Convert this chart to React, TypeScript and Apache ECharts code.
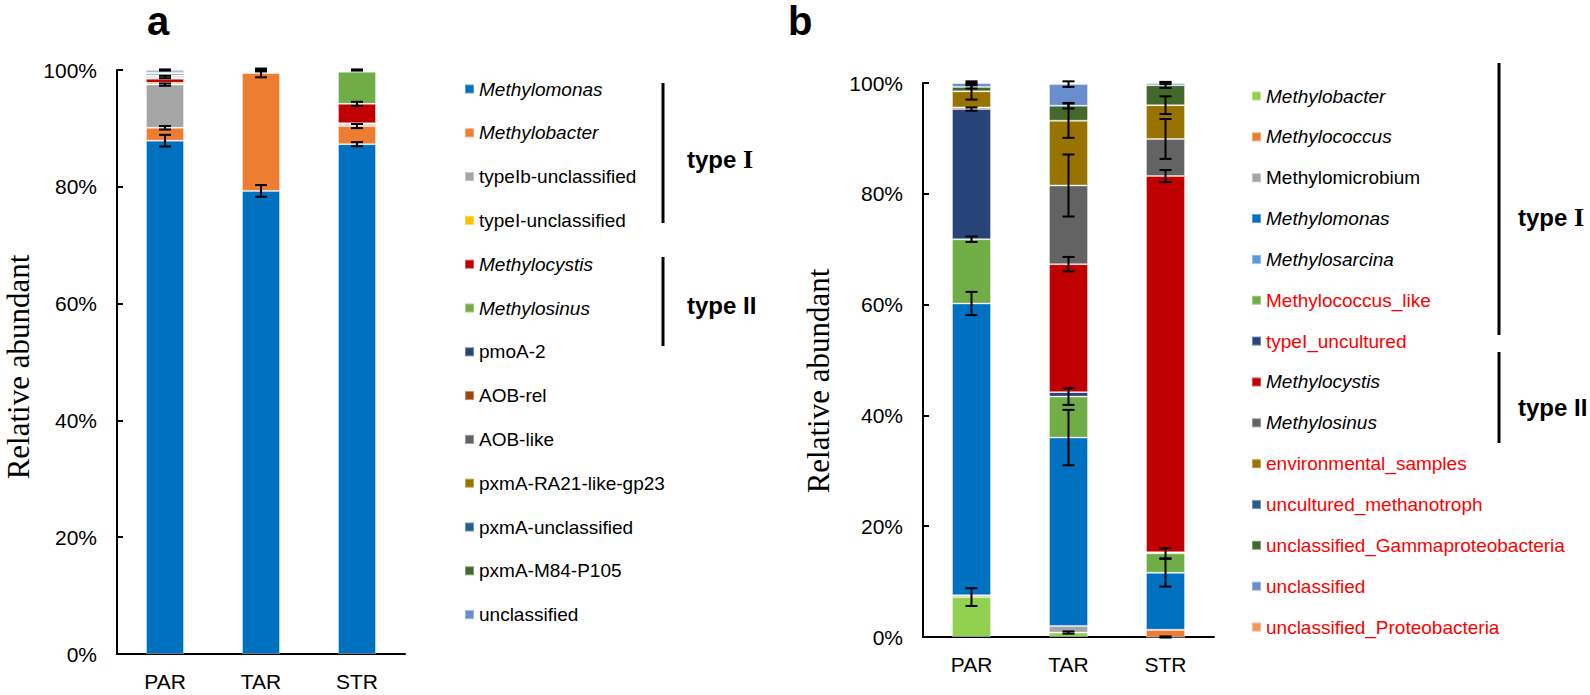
import React, { useEffect, useRef } from "react";
import * as echarts from "echarts";

// ---------- shared ----------
const categories = ["PAR", "TAR", "STR"];
const yMin = 0;
const yMax = 100;
const yInterval = 20;

// ---------- panel a ----------
const aNames = [
  "Methylomonas",
  "Methylobacter",
  "typeIb-unclassified",
  "typeI-unclassified",
  "Methylocystis",
  "Methylosinus",
  "pmoA-2",
  "AOB-rel",
  "AOB-like",
  "pxmA-RA21-like-gp23",
  "pxmA-unclassified",
  "pxmA-M84-P105",
  "unclassified",
];
const aColors = [
  "#0070C0", "#ED7D31", "#A5A5A5", "#FFC000", "#C00000", "#70AD47",
  "#264478", "#9E480E", "#636363", "#997300", "#255E91", "#43682B", "#698ED0",
];
const aItalic = ["Methylomonas", "Methylobacter", "Methylocystis", "Methylosinus"];
// values (%) for PAR, TAR, STR
const aMethylomonas = [87.9, 79.3, 87.3];
const aMethylobacter = [2.2, 20.2, 3.1];
const aTypeIb = [7.4, 0.05, 0.35];
const aTypeI = [0.3, 0, 0.15];
const aMethylocystis = [0.7, 0.05, 3.3];
const aMethylosinus = [0.1, 0.05, 5.5];
const aPmoA2 = [0.2, 0, 0.1];
const aAOBrel = [0.05, 0.2, 0];
const aAOBlike = [0.2, 0, 0];
const aRA21 = [0.05, 0, 0];
const aPxmAuncl = [0.3, 0.05, 0.1];
const aM84 = [0.2, 0, 0];
const aUncl = [0.4, 0.1, 0.1];
const aValues = [
  aMethylomonas, aMethylobacter, aTypeIb, aTypeI, aMethylocystis, aMethylosinus,
  aPmoA2, aAOBrel, aAOBlike, aRA21, aPxmAuncl, aM84, aUncl,
];
// error bar half-lengths (%)
const aErrors = [
  [1.0, 1.0, 0.35],
  [0.3, 0.75, 0.35],
  [0.2, 0, 0],
  [0, 0, 0],
  [0, 0, 0.35],
  [0, 0, 0],
  [0.2, 0, 0],
  [0, 0.1, 0],
  [0, 0, 0],
  [0, 0, 0],
  [0, 0, 0],
  [0, 0, 0],
  [0.1, 0.15, 0.1],
];

// ---------- panel b ----------
const bNames = [
  "Methylobacter",
  "Methylococcus",
  "Methylomicrobium",
  "Methylomonas",
  "Methylosarcina",
  "Methylococcus_like",
  "typeI_uncultured",
  "Methylocystis",
  "Methylosinus",
  "environmental_samples",
  "uncultured_methanotroph",
  "unclassified_Gammaproteobacteria",
  "unclassified",
  "unclassified_Proteobacteria",
];
const bColors = [
  "#92D050", "#ED7D31", "#A5A5A5", "#0070C0", "#5B9BD5", "#70AD47", "#264478",
  "#C00000", "#636363", "#997300", "#255E91", "#43682B", "#698ED0", "#F1975A",
];
const bItalic = ["Methylobacter", "Methylococcus", "Methylomonas", "Methylosarcina", "Methylocystis", "Methylosinus"];
const bRed = [
  "Methylococcus_like", "typeI_uncultured", "environmental_samples", "uncultured_methanotroph",
  "unclassified_Gammaproteobacteria", "unclassified", "unclassified_Proteobacteria",
];
const bMethylobacter = [7.2, 0.8, 0];
const bMethylococcus = [0.35, 0, 1.3];
const bMethylomicrobium = [0, 1.2, 0];
const bMethylomonas = [52.65, 34.0, 10.3];
const bMethylosarcina = [0, 0, 0];
const bMethylococcusLike = [11.6, 7.4, 3.5];
const bTypeIUncultured = [23.5, 0.8, 0.2];
const bMethylocystis = [0.3, 23.1, 67.9];
const bMethylosinus = [0, 14.2, 6.7];
const bEnvironmental = [2.9, 11.7, 6.1];
const bUncMethanotroph = [0, 0, 0];
const bGamma = [0.8, 2.7, 3.6];
const bUncl = [0.7, 3.9, 0.4];
const bProteo = [0, 0.2, 0];
const bValues = [
  bMethylobacter, bMethylococcus, bMethylomicrobium, bMethylomonas, bMethylosarcina,
  bMethylococcusLike, bTypeIUncultured, bMethylocystis, bMethylosinus, bEnvironmental,
  bUncMethanotroph, bGamma, bUncl, bProteo,
];
const bErrors = [
  [1.6, 0.2, 0.1],
  [0, 0, 0],
  [0, 0, 0],
  [2.1, 5.0, 2.5],
  [0, 0, 0],
  [0.5, 1.5, 0.9],
  [0.3, 0, 0],
  [0, 1.3, 1.1],
  [0, 5.6, 3.6],
  [1.5, 3.1, 1.6],
  [0, 0, 0],
  [0.3, 0.5, 0.5],
  [0.3, 0.5, 0.2],
  [0, 0, 0],
];

const SANS = "'Liberation Sans', Arial, sans-serif";
const SERIF = "'Liberation Serif', 'Times New Roman', serif";

function errorData(values: number[][], errors: number[][]) {
  const out: number[][] = [];
  const cum = categories.map(() => 0);
  values.forEach((vals, s) => {
    vals.forEach((v, c) => {
      cum[c] += v;
      const e = errors[s][c];
      if (e > 0) out.push([c, cum[c], e]);
    });
  });
  return out;
}

function errorSeries(idx: number, values: number[][], errors: number[][]) {
  return {
    type: "custom",
    name: "err" + idx,
    xAxisIndex: idx,
    yAxisIndex: idx,
    z: 10,
    silent: true,
    encode: { x: 0, y: 1 },
    data: errorData(values, errors),
    renderItem: (params: any, api: any) => {
      const c = api.value(0);
      const v = api.value(1);
      const e = api.value(2);
      const hi = api.coord([c, v + e]);
      const lo = api.coord([c, v - e]);
      const x = hi[0];
      const hw = 6;
      const style = { stroke: "#000", lineWidth: 2 };
      return {
        type: "group",
        children: [
          { type: "line", shape: { x1: x, y1: hi[1], x2: x, y2: lo[1] }, style },
          { type: "line", shape: { x1: x - hw, y1: hi[1], x2: x + hw, y2: hi[1] }, style },
          { type: "line", shape: { x1: x - hw, y1: lo[1], x2: x + hw, y2: lo[1] }, style },
        ],
      };
    },
  };
}

function barSeries(prefix: string, idx: number, names: string[], colors: string[], values: number[][], width: number) {
  return names.map((n, i) => ({
    type: "bar",
    name: prefix + "|" + n,
    stack: prefix,
    xAxisIndex: idx,
    yAxisIndex: idx,
    barWidth: width,
    data: values[i],
    itemStyle: { color: colors[i], borderColor: "rgba(255,255,255,0.35)", borderWidth: 1 },
  }));
}

const axisLineStyle = { color: "#000", width: 2 };

function xAxis(idx: number) {
  return {
    type: "category",
    gridIndex: idx,
    data: categories,
    axisLine: { lineStyle: axisLineStyle },
    axisTick: { inside: true, length: 6, lineStyle: axisLineStyle },
    axisLabel: { color: "#000", fontSize: 21, fontFamily: SANS, margin: 17 },
  };
}
function yAxis(idx: number) {
  return {
    type: "value",
    gridIndex: idx,
    min: yMin,
    max: yMax,
    interval: yInterval,
    axisLine: { show: true, lineStyle: axisLineStyle },
    axisTick: { show: true, inside: true, length: 6, lineStyle: axisLineStyle },
    splitLine: { show: false },
    axisLabel: { color: "#000", fontSize: 21, fontFamily: SANS, margin: 20, formatter: "{value}%" },
  };
}

const richBase = { fontSize: 19, fontFamily: SANS, lineHeight: 20 };

function legend(prefix: string, names: string[], left: number, top: number, gap: number, italic: string[], red: string[]) {
  return {
    orient: "vertical",
    left,
    top,
    itemGap: gap,
    itemWidth: 9,
    itemHeight: 9,
    icon: "rect",
    selectedMode: false,
    data: names.map((n) => prefix + "|" + n),
    formatter: (name: string) => {
      const n = name.split("|")[1];
      if (italic.includes(n)) return "{i|" + n + "}";
      if (red.includes(n)) return "{r|" + n + "}";
      return "{n|" + n + "}";
    },
    textStyle: {
      ...richBase,
      color: "#000",
      rich: {
        i: { ...richBase, color: "#000", fontStyle: "italic" },
        r: { ...richBase, color: "#FF0000" },
        n: { ...richBase, color: "#000" },
      },
    },
  };
}

function bracket(x: number, y1: number, y2: number) {
  return { type: "line", shape: { x1: x, y1, x2: x, y2 }, style: { stroke: "#000", lineWidth: 3 } };
}
function typeLabel(x: number, y: number, roman: "I" | "II") {
  return {
    type: "text",
    x,
    y,
    style: {
      text: roman === "I" ? "{s|type }{r|I}" : "{s|type II}",
      verticalAlign: "middle",
      align: "left",
      rich: {
        s: { fontFamily: SANS, fontWeight: "bold", fontSize: 24, fill: "#000" },
        r: { fontFamily: SERIF, fontWeight: "bold", fontSize: 26, fill: "#000" },
      },
    },
  };
}

export default function App() {
  const ref = useRef<HTMLDivElement>(null);
  useEffect(() => {
    if (!ref.current) return;
    const chart = echarts.init(ref.current, undefined, { renderer: "svg" });
    chart.setOption({
      animation: false,
      backgroundColor: "#fff",
      grid: [
        { left: 117, top: 70, width: 288, height: 584 },
        { left: 923, top: 83, width: 291, height: 554 },
      ],
      xAxis: [xAxis(0), xAxis(1)],
      yAxis: [yAxis(0), yAxis(1)],
      legend: [
        legend("a", aNames, 459, 74, 23.8, aItalic, []),
        legend("b", bNames, 1246, 81, 20.85, bItalic, bRed),
      ],
      series: [
        ...barSeries("a", 0, aNames, aColors, aValues, 38),
        ...barSeries("b", 1, bNames, bColors, bValues, 39),
        errorSeries(0, aValues, aErrors),
        errorSeries(1, bValues, bErrors),
      ],
      graphic: [
        { type: "text", x: 147, y: 21, style: { text: "a", fontFamily: SANS, fontWeight: "bold", fontSize: 40, fill: "#000", verticalAlign: "middle" } },
        { type: "text", x: 788, y: 21, style: { text: "b", fontFamily: SANS, fontWeight: "bold", fontSize: 40, fill: "#000", verticalAlign: "middle" } },
        { type: "text", x: 18, y: 367, rotation: Math.PI / 2, style: { text: "Relative abundant", fontFamily: SERIF, fontSize: 31, fill: "#000", align: "center", verticalAlign: "middle" } },
        { type: "text", x: 818, y: 381, rotation: Math.PI / 2, style: { text: "Relative abundant", fontFamily: SERIF, fontSize: 31, fill: "#000", align: "center", verticalAlign: "middle" } },
        bracket(663, 83, 223),
        bracket(663, 257, 346),
        bracket(1499, 63, 335),
        bracket(1499, 352, 443),
        typeLabel(687, 159, "I"),
        typeLabel(687, 305, "II"),
        typeLabel(1518, 217, "I"),
        typeLabel(1518, 407, "II"),
      ],
    });
    return () => chart.dispose();
  }, []);
  return (
    <div
      ref={ref}
      style={{ position: "fixed", left: 0, top: 0, width: 1590, height: 695, background: "#fff" }}
    />
  );
}
